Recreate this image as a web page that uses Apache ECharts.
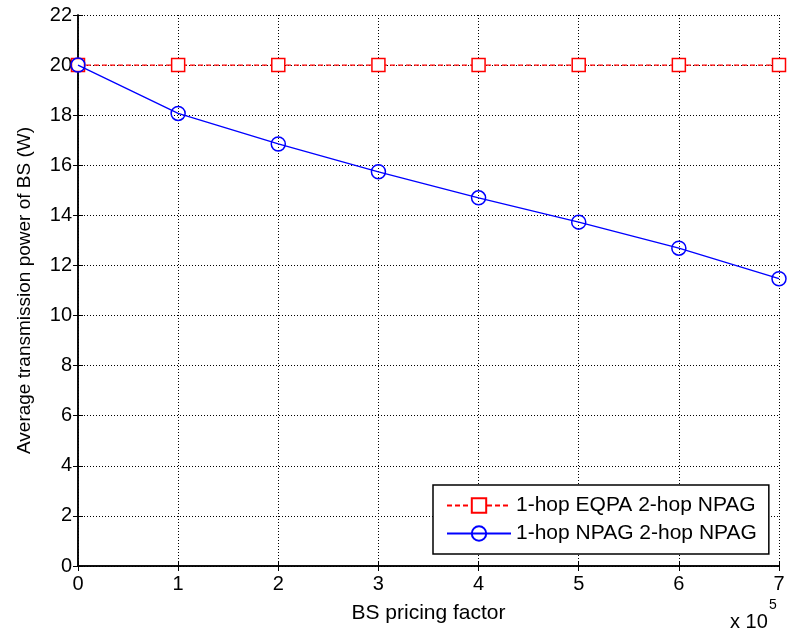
<!DOCTYPE html>
<html>
<head>
<meta charset="utf-8">
<script src="https://cdn.jsdelivr.net/npm/echarts@6/dist/echarts.min.js"></script>
<style>
  html, body { margin: 0; padding: 0; background: #fff; }
  #chart { width: 789px; height: 637px; }
</style>
</head>
<body>
<div id="chart"></div>
<script>
// BS pricing factor (in units of 1e5)
const pricingFactor = [0, 1, 2, 3, 4, 5, 6, 7];
// Average transmission power of BS (W)
const eqpaNpag = [20, 20, 20, 20, 20, 20, 20, 20];
const npagNpag = [20, 18.07, 16.85, 15.74, 14.7, 13.73, 12.69, 11.47];
const seriesNames = ['1-hop EQPA 2-hop NPAG', '1-hop NPAG 2-hop NPAG'];

const FONT = 'Liberation Sans, Arial, sans-serif';
const chart = echarts.init(document.getElementById('chart'), null, { renderer: 'canvas' });

const pairs = (ys) => pricingFactor.map((x, i) => [x, ys[i]]);

const tickStyle = { inside: true, length: 5, lineStyle: { color: '#000', width: 1 } };
const gridLine = { show: true, lineStyle: { color: '#000', width: 1, type: [1, 2] } };
const frameLine = { show: true, lineStyle: { color: '#000', width: 1.5 } };

chart.setOption({
  animation: false,
  backgroundColor: '#fff',
  grid: { left: 78, right: 10, top: 15, bottom: 71 },
  xAxis: [{
    type: 'value', min: 0, max: 7, interval: 1,
    axisLine: frameLine,
    axisTick: tickStyle,
    axisLabel: { color: '#000', fontSize: 20, fontFamily: FONT, margin: 8 },
    splitLine: gridLine,
    name: 'BS pricing factor', nameLocation: 'middle', nameGap: 37,
    nameTextStyle: { color: '#000', fontSize: 21, fontFamily: FONT }
  }, {
    type: 'value', min: 0, max: 7, interval: 1, position: 'top',
    axisLine: frameLine,
    axisTick: tickStyle, axisLabel: { show: false }, splitLine: { show: false }
  }],
  yAxis: [{
    type: 'value', min: 0, max: 22, interval: 2,
    axisLine: frameLine,
    axisTick: tickStyle,
    axisLabel: { color: '#000', fontSize: 20, fontFamily: FONT, margin: 6 },
    splitLine: gridLine,
    name: 'Average transmission power of BS (W)', nameLocation: 'middle', nameGap: 44,
    nameTextStyle: { color: '#000', fontSize: 19, fontFamily: FONT }
  }, {
    type: 'value', min: 0, max: 22, interval: 2, position: 'right',
    axisLine: frameLine,
    axisTick: tickStyle, axisLabel: { show: false }, splitLine: { show: false }
  }],
  legend: {
    left: 433, top: 485, width: 338,
    orient: 'vertical',
    backgroundColor: '#fff',
    borderColor: '#000', borderWidth: 1.5,
    padding: [10, 12, 10, 13],
    itemWidth: 64, itemHeight: 18, itemGap: 7,
    textStyle: { color: '#000', fontSize: 21, fontFamily: FONT },
    data: seriesNames
  },
  series: [{
    name: seriesNames[0], type: 'line', data: pairs(eqpaNpag),
    symbol: 'rect', symbolSize: 13, showAllSymbol: true,
    lineStyle: { color: '#ff0000', width: 1.2, type: [5, 3] },
    itemStyle: { color: '#fff', borderColor: '#ff0000', borderWidth: 1.5 },
    z: 2
  }, {
    name: seriesNames[1], type: 'line', data: pairs(npagNpag),
    symbol: 'circle', symbolSize: 14, showAllSymbol: true,
    lineStyle: { color: '#0000ff', width: 1.3 },
    itemStyle: { color: 'transparent', borderColor: '#0000ff', borderWidth: 1.5 },
    z: 3
  }],
  graphic: [{
    type: 'text', left: 730, top: 612,
    style: { text: 'x 10', fontSize: 20, fontFamily: FONT, fill: '#000' }
  }, {
    type: 'text', left: 769, top: 598,
    style: { text: '5', fontSize: 14, fontFamily: FONT, fill: '#000' }
  }]
});
</script>
</body>
</html>
